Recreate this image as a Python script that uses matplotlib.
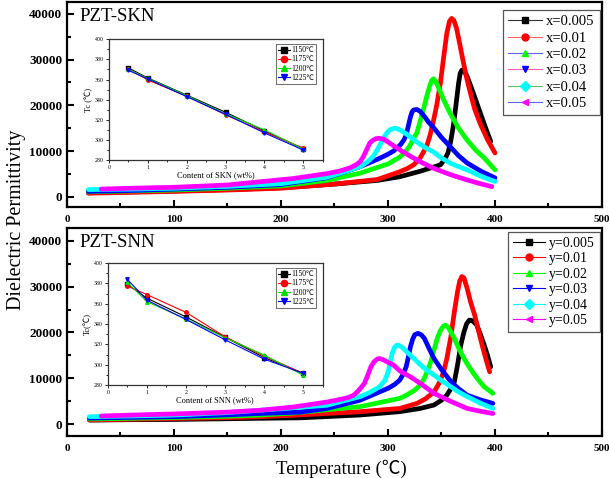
import matplotlib
matplotlib.use('Agg')
import matplotlib.pyplot as plt
from matplotlib.lines import Line2D
from matplotlib.ticker import MultipleLocator

plt.rcParams['font.family'] = ['Liberation Serif', 'Noto Sans CJK SC', 'DejaVu Sans']
plt.rcParams['mathtext.default'] = 'regular'

# ---------------- data: PZT-SKN (top) ----------------
skn_labels = ['x=0.005', 'x=0.01', 'x=0.02', 'x=0.03', 'x=0.04', 'x=0.05']
skn_T_005 = [20, 60, 100, 150, 200, 250, 290, 311, 330, 349, 353, 356, 358.5, 361, 363.5, 366, 367.5, 369, 371, 374, 378, 383, 388, 392, 396]
skn_E_005 = [900, 1100, 1300, 1600, 2000, 2800, 3600, 4400, 5600, 7000, 8200, 9600, 12000, 15400, 20000, 24900, 27000, 27700, 27600, 26300, 23800, 20500, 17200, 14600, 12100]
skn_T_01 = [20, 60, 100, 150, 200, 250, 290, 311, 318, 324, 330, 336, 339, 342, 345.5, 349, 352, 355, 357.5, 359.5, 361.5, 364, 367, 370, 373.5, 377, 381, 386, 393, 400]
skn_E_01 = [800, 1000, 1200, 1500, 1900, 2800, 3800, 5500, 6200, 7000, 8500, 11000, 13200, 16100, 20000, 24900, 30500, 35800, 38400, 39000, 38600, 36900, 33500, 29900, 26000, 22700, 19200, 16100, 12500, 9600]
skn_T_02 = [20, 60, 100, 150, 200, 243, 274, 300, 311, 316, 320, 324, 327, 330, 333, 336, 339, 341, 342.5, 344.5, 347, 352, 358, 366, 374, 382, 390, 400]
skn_E_02 = [1100, 1300, 1500, 1900, 2400, 3600, 5200, 7200, 8700, 9800, 11000, 12800, 14000, 16500, 19000, 21800, 24300, 25500, 25800, 25300, 24000, 21200, 18300, 15000, 12400, 10200, 8500, 5900]
skn_T_03 = [20, 60, 100, 150, 200, 243, 274, 290, 299, 305, 309, 312, 315, 317, 319, 321, 322.5, 324, 327, 330, 334, 338, 342, 350, 358, 366, 374, 387, 400]
skn_E_03 = [1200, 1400, 1700, 2100, 2700, 4200, 6600, 8200, 9200, 10000, 10800, 11500, 12500, 13500, 15500, 17500, 18600, 19000, 19100, 18700, 17600, 16300, 15300, 13000, 11000, 9000, 7400, 5600, 4150]
skn_T_04 = [20, 60, 100, 150, 200, 243, 274, 281, 286, 290, 293, 296, 299, 302, 306, 309, 313, 318, 324, 330, 336, 342, 350, 358, 366, 374, 387, 400]
skn_E_04 = [1600, 1700, 1900, 2300, 2900, 4300, 6600, 7700, 8800, 10300, 11600, 12900, 14000, 14700, 15000, 14900, 14400, 13600, 12500, 11500, 10600, 9900, 8500, 7400, 6600, 5900, 4500, 3350]
skn_T_05 = [32, 60, 100, 150, 180, 211, 243, 254, 264, 270, 274, 277, 280, 283, 286, 289, 292, 296, 300, 305, 311, 320, 330, 342, 358, 374, 386, 397]
skn_E_05 = [1700, 1900, 2100, 2600, 3300, 4000, 5100, 5600, 6300, 7000, 7700, 8800, 10300, 11800, 12400, 12750, 12800, 12600, 12000, 11200, 10300, 9000, 7700, 6300, 4900, 3700, 2900, 2250]

# ---------------- data: PZT-SNN (bottom) ----------------
snn_labels = ['y=0.005', 'y=0.01', 'y=0.02', 'y=0.03', 'y=0.04', 'y=0.05']
snn_T_005 = [21, 60, 100, 150, 180, 218, 274, 311, 330, 343, 350, 355, 359, 362, 365, 368, 371, 373.5, 376, 378.5, 381, 383, 386, 390, 393, 396]
snn_E_005 = [850, 950, 1000, 1150, 1250, 1350, 1970, 2700, 3400, 4150, 5200, 6300, 7800, 9200, 12900, 17200, 20100, 21900, 22700, 22600, 22100, 21600, 19800, 17200, 15000, 12500]
snn_T_01 = [21, 60, 100, 150, 180, 211, 274, 311, 327, 335, 343, 348, 352, 355, 359, 362, 365, 367, 369, 371, 374, 377, 381, 385, 388, 391.5, 395]
snn_E_01 = [900, 1050, 1200, 1400, 1600, 1900, 2700, 3400, 4500, 5500, 7000, 9000, 11400, 14300, 19400, 24500, 28900, 31200, 32200, 31900, 29600, 26800, 23800, 20000, 17200, 14200, 11400]
snn_T_02 = [21, 60, 100, 150, 180, 211, 274, 311, 318, 325, 330, 334, 337, 340, 343, 346, 349, 351.5, 353.5, 356, 359, 362, 366, 371, 376, 381, 386, 390, 398]
snn_E_02 = [1100, 1250, 1400, 1700, 1950, 2400, 3800, 5600, 6400, 7400, 8500, 10000, 11700, 13600, 16200, 18700, 20400, 21300, 21600, 21200, 20000, 18700, 16600, 14300, 12400, 10700, 9200, 8100, 6700]
snn_T_03 = [21, 60, 100, 150, 180, 218, 243, 274, 300, 306, 311, 314, 317, 319, 321, 323, 325, 328, 331, 334, 338, 343, 350, 359, 366, 374, 386, 398]
snn_E_03 = [1300, 1450, 1600, 2000, 2300, 2600, 3400, 5200, 7800, 8600, 9600, 10800, 12500, 14600, 16900, 18500, 19500, 19800, 19500, 18700, 16700, 14300, 11900, 9200, 7700, 6300, 5300, 4500]
snn_T_04 = [21, 60, 100, 150, 180, 243, 274, 283, 292, 297, 300, 302, 304, 306, 308, 310, 313, 317, 321, 326, 330, 336, 343, 351, 359, 366, 374, 386, 398]
snn_E_04 = [1600, 1750, 1950, 2500, 3000, 4100, 6000, 6900, 8100, 9500, 11300, 13500, 15500, 16700, 17200, 17200, 16800, 15900, 15000, 13900, 13000, 11800, 10700, 9300, 8100, 7000, 6000, 4600, 3400]
snn_T_05 = [32, 60, 100, 150, 180, 211, 243, 256, 263, 268, 272, 275, 278, 281, 284, 287, 290, 292, 295, 299, 305, 311, 321, 330, 343, 359, 374, 386, 398]
snn_E_05 = [1750, 1950, 2200, 2600, 3000, 3700, 4800, 5400, 5800, 6300, 7200, 8000, 8900, 10600, 12500, 13600, 14200, 14300, 14100, 13600, 12900, 11600, 10300, 8900, 6700, 4900, 3400, 2800, 2300]

# ---------------- inset data: Tc vs content ----------------
content = [0.5, 1, 2, 3, 4, 5]
sinter_labels = ['1150\u2103', '1175\u2103', '1200\u2103', '1225\u2103']
skn_tc_1150 = [371.5, 361.5, 344.5, 327.5, 309, 291]
skn_tc_1175 = [370.5, 359.5, 343.5, 325, 308, 292]
skn_tc_1200 = [370, 361, 344, 326, 310, 291]
skn_tc_1225 = [369, 360.5, 343, 325.5, 307, 290]
snn_tc_1150 = [379, 365.5, 347, 327, 307, 291.5]
snn_tc_1175 = [377.5, 369, 351.5, 327.5, 308.5, 291.5]
snn_tc_1200 = [381, 362, 345, 326.5, 309.5, 289.5]
snn_tc_1225 = [384, 363.5, 344.5, 324.5, 305.5, 291.5]

colors = ['#000000', '#ff0000', '#00ff00', '#0000ff', '#00ffff', '#ff00ff']
markers = ['s', 'o', '^', 'v', 'D', '<']
skn_leg_line_colors = ['#333333', '#ff6060', '#6060ff', '#ff60c0', '#60c060', '#6060ff']
inset_colors = ['#000000', '#ff0000', '#00dd00', '#0000ff']
inset_markers = ['s', 'o', '^', 'v']

fig = plt.figure(figsize=(6.09, 4.78), dpi=100)
ax1 = fig.add_axes([0.110, 0.567, 0.8785, 0.429])
ax2 = fig.add_axes([0.110, 0.088, 0.8785, 0.435])

skn_T = [skn_T_005, skn_T_01, skn_T_02, skn_T_03, skn_T_04, skn_T_05]
skn_E = [skn_E_005, skn_E_01, skn_E_02, skn_E_03, skn_E_04, skn_E_05]
snn_T = [snn_T_005, snn_T_01, snn_T_02, snn_T_03, snn_T_04, snn_T_05]
snn_E = [snn_E_005, snn_E_01, snn_E_02, snn_E_03, snn_E_04, snn_E_05]


def style_main(ax, ylim):
    ax.set_xlim(0, 500)
    ax.set_ylim(*ylim)
    ax.xaxis.set_major_locator(MultipleLocator(100))
    ax.xaxis.set_minor_locator(MultipleLocator(50))
    ax.yaxis.set_major_locator(MultipleLocator(10000))
    ax.yaxis.set_minor_locator(MultipleLocator(5000))
    ax.tick_params(which='both', direction='in', width=1.5)
    ax.tick_params(which='major', length=5)
    ax.tick_params(which='minor', length=3)
    ax.tick_params(axis='x', labelsize=8, pad=6)
    ax.tick_params(axis='y', labelsize=9.5)
    for lab in ax.get_xticklabels() + ax.get_yticklabels():
        lab.set_fontweight('bold')
    for sp in ax.spines.values():
        sp.set_linewidth(1.6)


def draw_main(ax, Ts, Es, labels, leg_line_colors, fontsz, lspace, anchor):
    for T, E, c in zip(Ts, Es, colors):
        ax.plot(T, E, color=c, lw=3.4, solid_joinstyle='round', solid_capstyle='round')
    handles = [Line2D([0], [0], color=lc, lw=0.8, marker=m, markersize=5,
                      markerfacecolor=c, markeredgecolor=c)
               for lc, m, c in zip(leg_line_colors, markers, colors)]
    leg = ax.legend(handles, labels, loc='upper right', bbox_to_anchor=anchor,
                    fontsize=fontsz, labelspacing=lspace, handlelength=2.3,
                    handletextpad=0.3, borderpad=0.35, fancybox=False,
                    framealpha=1, edgecolor='#555555', borderaxespad=0.0)
    leg.get_frame().set_linewidth(0.9)


def draw_inset(rect, tcs, xlabel, ylabel):
    ax = fig.add_axes(rect)
    for tc, c, m in zip(tcs, inset_colors, inset_markers):
        ax.plot(content, tc, color=c, lw=0.8, marker=m, markersize=2.5)
    ax.set_xlim(0, 5.5)
    ax.set_ylim(280, 400)
    ax.xaxis.set_major_locator(MultipleLocator(1))
    ax.xaxis.set_minor_locator(MultipleLocator(0.5))
    ax.yaxis.set_major_locator(MultipleLocator(20))
    ax.yaxis.set_minor_locator(MultipleLocator(10))
    ax.tick_params(which='both', direction='out', width=0.6, labelsize=4.2, pad=1.5)
    ax.tick_params(which='major', length=2.2)
    ax.tick_params(which='minor', length=1.2)
    for sp in ax.spines.values():
        sp.set_linewidth(0.9)
        sp.set_color('#333333')
    ax.set_xlabel(xlabel, fontsize=6, labelpad=0.5)
    ax.set_ylabel(ylabel, fontsize=6, labelpad=1)
    handles = [Line2D([0], [0], color=c, lw=0.8, marker=m, markersize=4.5)
               for c, m in zip(inset_colors, inset_markers)]
    leg = ax.legend(handles, sinter_labels, loc='upper right', bbox_to_anchor=(0.97, 0.96),
                    fontsize=5.5, labelspacing=0.15, handlelength=1.5, handletextpad=0.2,
                    borderpad=0.3, fancybox=False, framealpha=1, edgecolor='#555555',
                    borderaxespad=0.0)
    leg.get_frame().set_linewidth(0.6)
    return ax


style_main(ax1, (-2200, 42600))
style_main(ax2, (-2600, 42800))
draw_main(ax1, skn_T, skn_E, skn_labels, skn_leg_line_colors, 10.5, 0.22, (0.996, 0.961))
draw_main(ax2, snn_T, snn_E, snn_labels, colors, 10, 0.18, (0.996, 0.981))

ax1.text(0.024, 0.93, 'PZT-SKN', transform=ax1.transAxes, fontsize=13.5, va='center', ha='left')
ax2.text(0.024, 0.93, 'PZT-SNN', transform=ax2.transAxes, fontsize=13.5, va='center', ha='left')

draw_inset([0.179, 0.665, 0.351, 0.253],
           [skn_tc_1150, skn_tc_1175, skn_tc_1200, skn_tc_1225],
           'Content of SKN (wt%)', 'Tc (\u2103)')
draw_inset([0.177, 0.1946, 0.353, 0.255],
           [snn_tc_1150, snn_tc_1175, snn_tc_1200, snn_tc_1225],
           'Content of SNN (wt%)', 'Tc(\u2103)')

fig.text(0.027, 0.54, 'Dielectric Permittivity', rotation=90, fontsize=14.5,
         ha='center', va='center')
fig.text(0.561, 0.019, 'Temperature (\u2103)', fontsize=13.5, ha='center', va='center')

fig.savefig('out.png', dpi=100)
